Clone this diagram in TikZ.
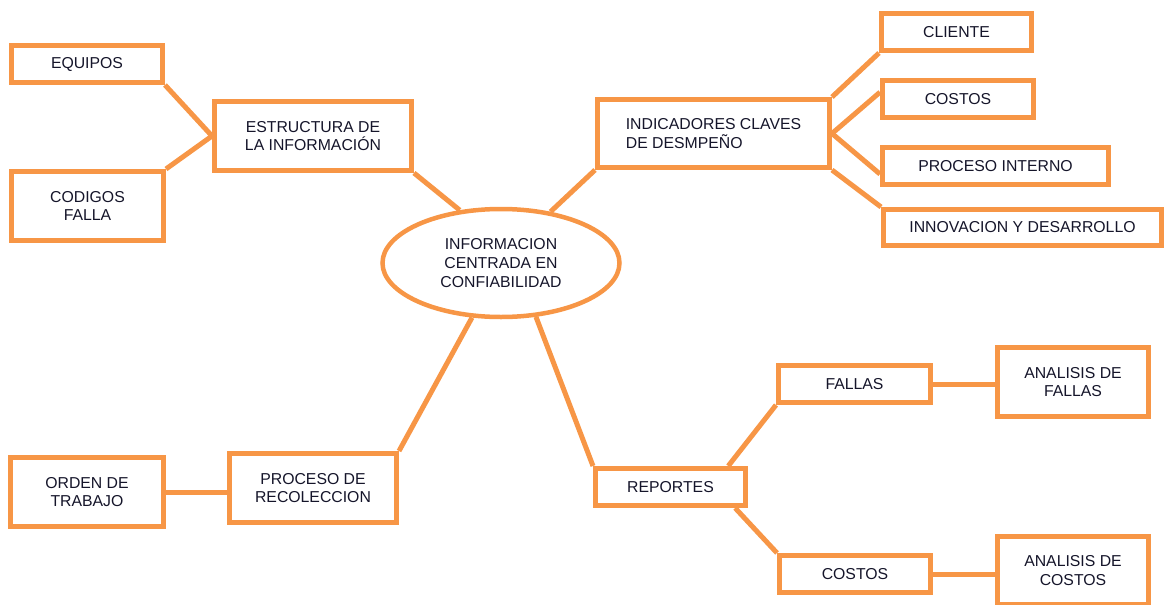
\documentclass[tikz,border=0pt]{standalone}
\usepackage{fontspec}
\setmainfont{Liberation Sans}
\usetikzlibrary{shapes.geometric}
\definecolor{orng}{HTML}{F79646}
\definecolor{ink}{HTML}{15152A}
\begin{document}
\begin{tikzpicture}[x=1pt,y=-1pt,
  box/.style={draw=orng, line width=5pt, fill=white, rectangle, inner sep=0pt,
    align=center, text=ink, font=\fontsize{15.8}{18.5}\selectfont},
  link/.style={draw=orng, line width=5pt}]
\useasboundingbox (0,0) rectangle (1165,605);
% central ellipse
\node[draw=orng, line width=4.5pt, ellipse, inner sep=0pt, minimum width=237pt, minimum height=108pt,
  align=center, text=ink, font=\fontsize{15.8}{19}\selectfont] (ell) at (501,263)
  {INFORMACION\\CENTRADA EN\\CONFIABILIDAD};
% left top
\node[box, minimum width=151pt, minimum height=37pt] (equ) at (87,64) {EQUIPOS};
\node[box, minimum width=152pt, minimum height=69pt] (cod) at (87.5,206) {CODIGOS\\FALLA};
\node[box, minimum width=197pt, minimum height=69pt] (est) at (313,136) {ESTRUCTURA DE\\LA INFORMACIÓN};
% right top
\node[box, minimum width=232pt, minimum height=68pt, align=left] (ind) at (713.5,133.5) {INDICADORES CLAVES\\DE DESMPEÑO};
\node[box, minimum width=150pt, minimum height=37pt] (cli) at (956.5,32) {CLIENTE};
\node[box, minimum width=151pt, minimum height=37pt] (cos1) at (958,99) {COSTOS};
\node[box, minimum width=226pt, minimum height=37pt] (pin) at (995.5,166) {PROCESO INTERNO};
\node[box, minimum width=278pt, minimum height=36pt] (inn) at (1022.5,227.5) {INNOVACION Y DESARROLLO};
% left bottom
\node[box, minimum width=153pt, minimum height=69pt] (ord) at (87,492) {ORDEN DE\\TRABAJO};
\node[box, minimum width=167pt, minimum height=69pt] (rec) at (313,488) {PROCESO DE\\RECOLECCION};
% right bottom
\node[box, minimum width=150pt, minimum height=37pt] (rep) at (670.5,487) {REPORTES};
\node[box, minimum width=152pt, minimum height=37pt] (fal) at (854.5,384) {FALLAS};
\node[box, minimum width=151pt, minimum height=69pt] (afa) at (1073,382) {ANALISIS DE\\FALLAS};
\node[box, minimum width=151pt, minimum height=37pt] (cos2) at (855,574) {COSTOS};
\node[box, minimum width=151pt, minimum height=68pt] (aco) at (1073,570.5) {ANALISIS DE\\COSTOS};
% connectors
\draw[link] (equ.south east) -- (est.west);
\draw[link] (cod.north east) -- (est.west);
\draw[link] (est.south east) -- (ell.128);
\draw[link] (ind.south west) -- (ell.46);
\draw[link] (ind.north east) -- (cli.south west);
\draw[link] (ind.east) -- (cos1.175);
\draw[link] (ind.east) -- (pin.184);
\draw[link] (ind.south east) -- (inn.north west);
\draw[link] (ell.242) -- (rec.north east);
\draw[link] (ell.303) -- (rep.north west);
\draw[link] (ord.east) -- (ord.east -| rec.west);
\draw[link] (rep.20) -- (fal.south west);
\draw[link] (rep.-18) -- (cos2.north west);
\draw[link] (fal.east) -- (fal.east -| afa.west);
\draw[link] (cos2.east) -- (cos2.east -| aco.west);
\end{tikzpicture}
\end{document}
